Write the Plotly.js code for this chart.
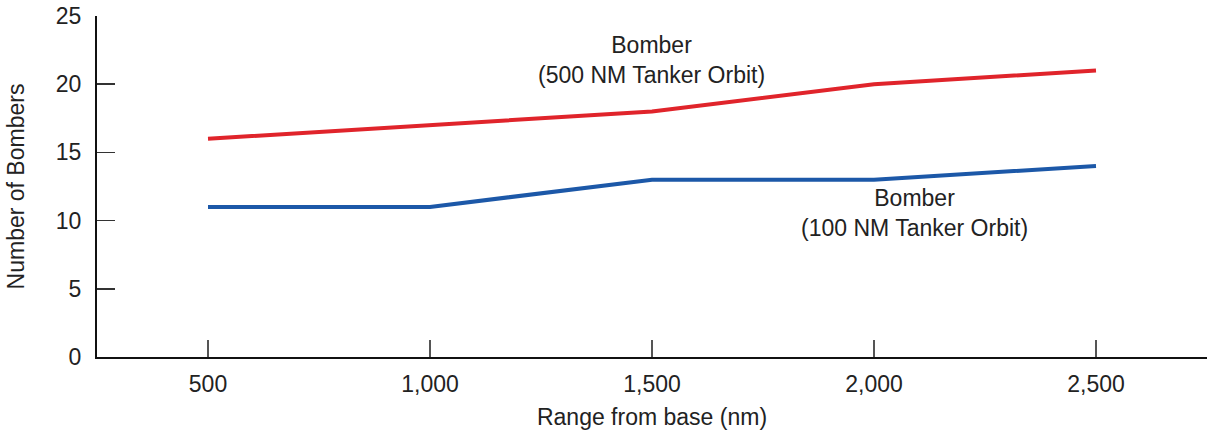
<!DOCTYPE html>
<html><head><meta charset="utf-8">
<script src="https://cdn.plot.ly/plotly-3.0.1.min.js"></script>
<style>body{margin:0;background:#fff}#c{width:1207px;height:436px}</style>
</head><body><div id="c"></div>
<script>
const ranges = [500, 1000, 1500, 2000, 2500];
const bomber500 = [16, 17, 18, 20, 21];
const bomber100 = [11, 11, 13, 13, 14];
const label500 = "Bomber<br>(500 NM Tanker Orbit)";
const label100 = "Bomber<br>(100 NM Tanker Orbit)";
const yTicks = [0, 5, 10, 15, 20, 25];

const FS = 23;
const font = {family: "Liberation Sans, Arial, sans-serif", size: FS, color: "#222"};
const data = [
  {x: ranges, y: bomber500, mode: "lines", line: {color: "#e0242b", width: 4}, name: "500", hoverinfo: "skip"},
  {x: ranges, y: bomber100, mode: "lines", line: {color: "#1c58a8", width: 4}, name: "100", hoverinfo: "skip"}
];
const layout = {
  width: 1207, height: 436,
  margin: {l: 97, r: 0, t: 16, b: 79},
  paper_bgcolor: "#fff", plot_bgcolor: "#fff",
  showlegend: false,
  font: font,
  xaxis: {
    range: [250, 2750], tickvals: ranges, tickformat: ",d",
    ticks: "inside", ticklen: 17, tickwidth: 1.5, tickcolor: "#555",
    showline: true, linewidth: 2, linecolor: "#111", showgrid: false, zeroline: false,
    tickfont: {size: FS, color: "#222"}, ticklabelstandoff: 5,
    title: {text: "Range from base (nm)", font: {size: FS, color: "#222"}, standoff: 13}
  },
  yaxis: {
    range: [0, 25], tickvals: yTicks,
    ticks: "inside", ticklen: 18, tickwidth: 1.5, tickcolor: "#333",
    showline: true, linewidth: 2, linecolor: "#111", showgrid: false, zeroline: false,
    tickfont: {size: FS, color: "#222"}, ticklabelstandoff: 9,
    title: {text: "Number of Bombers", font: {size: FS, color: "#222"}, standoff: 25}
  },
  annotations: [
    {x: 1498, y: 21.8, xref: "x", yref: "y", text: label500, showarrow: false, font: {size: FS, color: "#222"}, align: "center"},
    {x: 2092, y: 10.55, xref: "x", yref: "y", text: label100, showarrow: false, font: {size: FS, color: "#222"}, align: "center"}
  ]
};
Plotly.newPlot("c", data, layout, {staticPlot: true, displayModeBar: false});
</script></body></html>
